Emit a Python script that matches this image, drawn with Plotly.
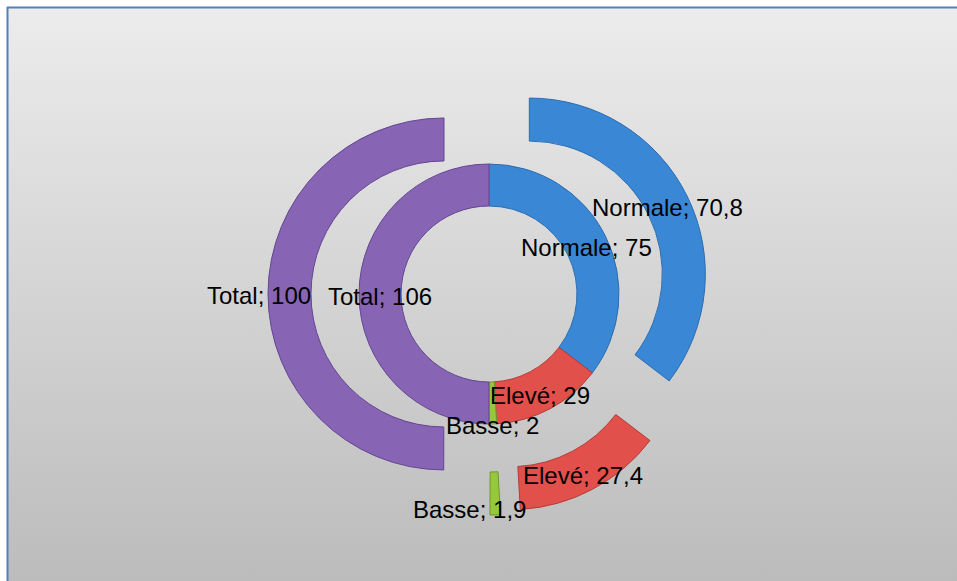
import math
import base64
import plotly.graph_objects as go

# ---------------- data ----------------
categories = ["Normale", "Elevé", "Basse", "Total"]
inner_values = [75, 29, 2, 106]
outer_values = [70.8, 27.4, 1.9, 100]

# ---------------- geometry / style ----------------
W, H = 957, 581
CX, CY = 489, 294            # pixel centre of the doughnut
IN_R, IN_r = 130, 88         # inner ring outer / inner radius (px)
OUT_R, OUT_r = 176, 133      # outer ring outer / inner radius (px)
PULL_PX = 45                 # explosion distance of outer ring (px)
FRAME = 7                    # white strip before the chart-area border (px)

colors = ["#3a87d5", "#e1504b", "#96c83c", "#8764b4"]
edges = ["#2c6cb0", "#b23d39", "#6f9a25", "#634790"]
FONT = dict(family="Liberation Sans, Arial, sans-serif", size=24, color="#000000")

# label nudges (px) for labels that Excel moved off the slice centre
BASE_DY = -2
inner_shift = {"Basse": (0, -21), "Elevé": (0, -3)}
outer_shift = {"Basse": (-25, -14), "Total": (-31, 0), "Elevé": (0, -3)}


def fmt(v):
    return f"{v:g}".replace(".", ",")


def domain(half):
    return dict(x=[(CX - half) / W, (CX + half) / W],
                y=[1 - (CY + half) / H, 1 - (CY - half) / H])


pull = PULL_PX / OUT_R

fig = go.Figure()
fig.add_trace(go.Pie(
    labels=categories, values=outer_values, sort=False, direction="clockwise",
    rotation=0, hole=OUT_r / OUT_R, pull=[pull] * len(outer_values),
    marker=dict(colors=colors, line=dict(color=edges, width=1)),
    textinfo="none", hoverinfo="skip", showlegend=False,
    domain=domain(OUT_R * (1 + pull)),
))
fig.add_trace(go.Pie(
    labels=categories, values=inner_values, sort=False, direction="clockwise",
    rotation=0, hole=IN_r / IN_R,
    marker=dict(colors=colors, line=dict(color=edges, width=1)),
    textinfo="none", hoverinfo="skip", showlegend=False,
    domain=domain(IN_R),
))

annotations = []


def add_labels(values, mid_r, shifts):
    total = sum(values)
    cum = 0
    for cat, v in zip(categories, values):
        theta = (cum + v / 2) / total * 2 * math.pi
        cum += v
        xp = CX + mid_r * math.sin(theta)
        yp = CY - mid_r * math.cos(theta)
        dx, dy = shifts.get(cat, (0, 0))
        annotations.append(dict(
            x=xp / W, y=1 - yp / H, xref="paper", yref="paper",
            text=f"{cat}; {fmt(v)}", showarrow=False, font=FONT,
            xanchor="center", yanchor="middle", xshift=dx, yshift=dy + BASE_DY,
        ))


add_labels(inner_values, (IN_R + IN_r) / 2, inner_shift)
add_labels(outer_values, (OUT_R + OUT_r) / 2 + PULL_PX, outer_shift)

svg = (
    f'<svg xmlns="http://www.w3.org/2000/svg" width="{W}" height="{H}" '
    f'viewBox="0 0 {W} {H}" preserveAspectRatio="none">'
    '<defs><linearGradient id="g" x1="0" y1="0" x2="0" y2="1">'
    '<stop offset="0" stop-color="#ececec"/><stop offset="1" stop-color="#bbbbbb"/>'
    '</linearGradient></defs>'
    f'<rect x="0" y="0" width="{W}" height="{H}" fill="#ffffff"/>'
    f'<rect x="{FRAME}" y="{FRAME}" width="{W}" height="{H}" fill="url(#g)"/>'
    f'<line x1="{FRAME}" y1="{FRAME + 0.5}" x2="{W}" y2="{FRAME + 0.5}" '
    'stroke="#4f81bd" stroke-width="2"/>'
    f'<line x1="{FRAME + 0.5}" y1="{FRAME}" x2="{FRAME + 0.5}" y2="{H}" '
    'stroke="#4f81bd" stroke-width="2"/>'
    '</svg>'
)
src = "data:image/svg+xml;base64," + base64.b64encode(svg.encode()).decode()

fig.update_layout(
    width=W, height=H, margin=dict(l=0, r=0, t=0, b=0),
    paper_bgcolor="#ffffff", plot_bgcolor="rgba(0,0,0,0)",
    annotations=annotations,
    images=[dict(source=src, xref="paper", yref="paper", x=0, y=1,
                 sizex=1, sizey=1, xanchor="left", yanchor="top",
                 sizing="stretch", layer="below")],
)

fig.write_html(
    "out.html",
    config={"displayModeBar": False},
    post_script="document.body.style.margin='0';document.body.style.overflow='hidden';",
)
